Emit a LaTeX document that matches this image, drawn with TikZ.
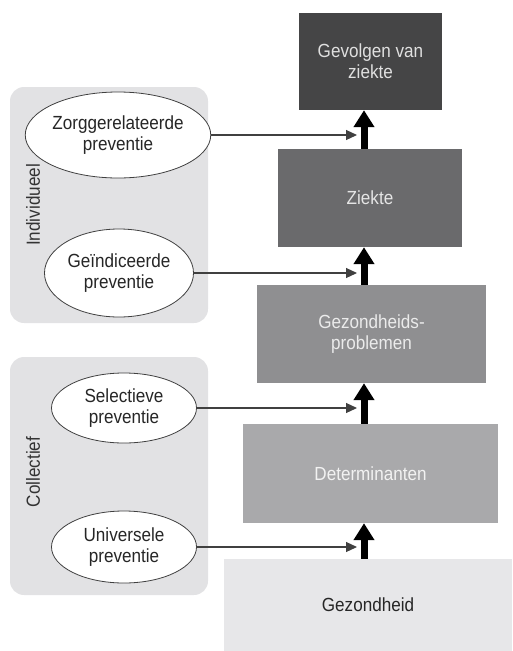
\documentclass[tikz,border=0pt]{standalone}
\usepackage{fontspec}
\setmainfont{Liberation Sans}[FakeStretch=0.9]
\usetikzlibrary{arrows.meta,calc,shapes.geometric}
\definecolor{gevolgkleur}{HTML}{454546}
\definecolor{ziektekleur}{HTML}{6A6A6C}
\definecolor{probleemkleur}{HTML}{8F8F91}
\definecolor{determkleur}{HTML}{A9A9AB}
\definecolor{gezondkleur}{HTML}{E7E7E9}
\definecolor{groepkleur}{HTML}{E2E2E4}

\begin{document}
\begin{tikzpicture}[x=1pt,y=-1pt,
  every node/.style={font=\fontsize{19}{21}\selectfont, align=center, inner sep=0},
  level/.style={rectangle, fill=#1},
  prev/.style={ellipse, draw=black!75, fill=white, line width=.8pt, text=black!85},
  groep/.style={fill=groepkleur, rounded corners=14pt},
  pijl/.style={line width=7pt, -{Triangle[width=20pt,length=17pt]}},
  lijn/.style={draw=black!75, line width=1.2pt, -{Triangle[width=10pt,length=11pt]}, shorten >=7pt}]
\useasboundingbox (0,0) rectangle (512,651);
\fill[groep] (10,87) rectangle (208,323);
\fill[groep] (10,357) rectangle (208,595);
\node[rotate=90, text=black!80] (indiv) at (33,205) {Individueel};
\node[rotate=90, text=black!80] (coll) at (33,472) {Collectief};

\node[level=gevolgkleur, minimum width=143, minimum height=97, text=black!12] (gevolgen) at (370.5,61.5) {Gevolgen van\\ziekte};
\node[level=ziektekleur, minimum width=184, minimum height=98, text=black!10] (ziekte) at (370,198) {Ziekte};
\node[level=probleemkleur, minimum width=229, minimum height=98, text=black!8] (problemen) at (371.5,334) {Gezondheids-\\problemen};
\node[level=determkleur, minimum width=255, minimum height=99, text=black!5] (determinanten) at (370.5,473.5) {Determinanten};
\node[level=gezondkleur, minimum width=288, minimum height=92, text=black!85] (gezondheid) at (368,605) {Gezondheid};

\node[prev, minimum width=150, minimum height=86] (zorg) at (118,135) {Zorggerelateerde\\preventie};
\node[prev, minimum width=149, minimum height=88] (geind) at (119,273) {Geïndiceerde\\preventie};
\node[prev, minimum width=145, minimum height=70] (select) at (124,408) {Selectieve\\preventie};
\node[prev, minimum width=145, minimum height=72] (univ) at (124,547) {Universele\\preventie};

\coordinate (as) at (364,0);
\foreach \a/\b in {gezondheid/determinanten, determinanten/problemen, problemen/ziekte, ziekte/gevolgen}
  \draw[pijl] (\a.north -| as) -- (\b.south -| as);
\foreach \p in {zorg, geind, select, univ}
  \draw[lijn] (\p.east) -- (\p.east -| as);
\end{tikzpicture}
\end{document}
